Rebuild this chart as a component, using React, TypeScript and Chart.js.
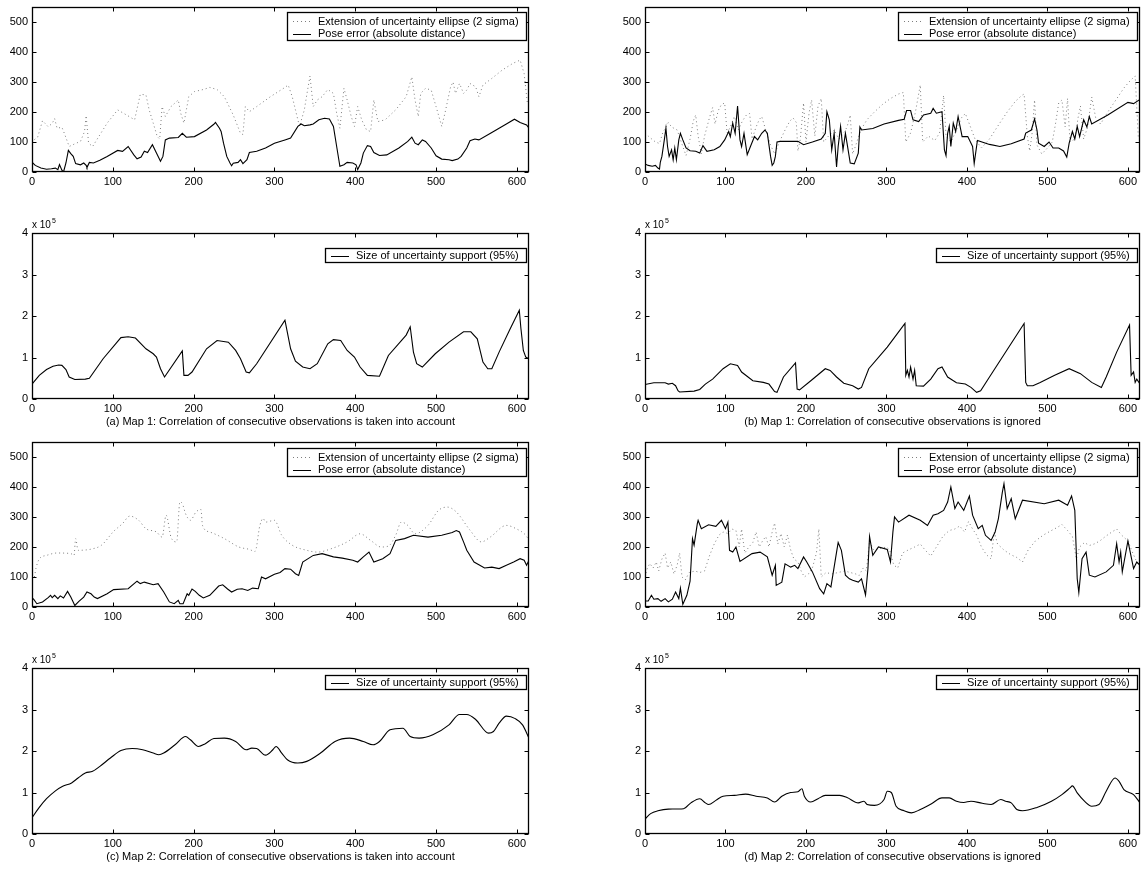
import React, { useEffect, useRef } from 'react';
import { Chart, registerables } from 'chart.js';

Chart.register(...registerables);

// ---------- axes / labels ----------
const X_TICKS = [0, 100, 200, 300, 400, 500, 600];
const POSE_Y_TICKS = [0, 100, 200, 300, 400, 500];
const SUPPORT_Y_TICKS = [0, 1, 2, 3, 4];
const X_MAX = 615;
const POSE_Y_MAX = 550;
const SUPPORT_Y_MAX = 4;

const LABEL_ELLIPSE = 'Extension of uncertainty ellipse (2 sigma)';
const LABEL_POSE = 'Pose error (absolute distance)';
const LABEL_SUPPORT = 'Size of uncertainty support (95%)';
const EXPONENT_BASE = 'x 10';
const EXPONENT_POWER = '5';

const CAPTION_A = '(a) Map 1: Correlation of consecutive observations is taken into account';
const CAPTION_B = '(b) Map 1: Correlation of consecutive observations is ignored';
const CAPTION_C = '(c) Map 2: Correlation of consecutive observations is taken into account';
const CAPTION_D = '(d) Map 2: Correlation of consecutive observations is ignored';

// ---------- data: [step, value] ----------
// (a) Map 1, correlation taken into account
const poseErrorA: [number, number][] = [[0,33],[4,22],[11,13],[18,9],[24,11],[29,13],[32,8],[34,25],[37,6],[39,0],[42,30],[45,72],[48,61],[51,52],[54,28],[60,24],[64,30],[67,22],[68,15],[71,32],[76,30],[84,39],[93,52],[106,72],[112,69],[119,85],[126,57],[130,44],[135,50],[139,69],[143,65],[149,91],[154,63],[159,36],[162,52],[165,107],[170,113],[181,115],[186,129],[191,116],[201,118],[216,140],[225,159],[227,165],[232,146],[234,135],[237,96],[241,52],[245,30],[247,21],[249,29],[255,32],[258,41],[261,28],[266,41],[269,65],[278,69],[289,80],[300,96],[313,107],[320,113],[329,152],[333,160],[337,154],[344,157],[348,160],[355,174],[362,179],[368,177],[373,152],[377,85],[381,19],[386,24],[390,32],[397,30],[401,24],[403,8],[407,30],[410,63],[415,88],[419,85],[423,65],[430,55],[439,57],[454,80],[465,102],[470,116],[474,96],[478,91],[483,107],[487,102],[494,80],[500,54],[507,43],[516,41],[520,38],[527,43],[531,52],[538,80],[542,104],[548,110],[553,107],[569,132],[587,160],[597,176],[604,165],[612,157],[615,146]];
const ellipseA: [number, number][] = [[3,108],[7,116],[13,171],[20,151],[25,162],[28,178],[31,146],[37,149],[40,129],[46,85],[53,94],[60,102],[65,135],[67,188],[70,96],[75,85],[84,124],[93,163],[106,207],[117,190],[127,174],[134,259],[141,257],[145,207],[150,163],[155,118],[158,110],[161,218],[165,185],[172,218],[181,240],[184,196],[188,163],[194,251],[201,268],[212,275],[220,282],[229,275],[238,251],[249,190],[258,129],[261,125],[264,218],[269,201],[278,218],[295,251],[313,282],[317,290],[322,251],[331,152],[337,207],[340,257],[344,320],[348,218],[353,240],[359,251],[366,275],[373,262],[377,196],[381,146],[386,279],[390,240],[395,185],[399,152],[403,218],[408,174],[414,140],[419,135],[423,240],[428,168],[437,174],[450,207],[463,251],[470,317],[474,240],[478,185],[481,262],[487,279],[494,273],[500,218],[507,152],[511,196],[518,284],[521,300],[524,262],[529,295],[534,262],[538,273],[542,295],[549,284],[553,251],[558,290],[569,312],[582,340],[595,362],[604,373],[609,328],[613,229]];
const supportA: [number, number][] = [[0,0.36],[9,0.57],[18,0.71],[26,0.79],[33,0.82],[37,0.81],[42,0.71],[46,0.53],[53,0.47],[66,0.48],[71,0.5],[88,0.97],[110,1.48],[119,1.5],[128,1.47],[141,1.21],[150,1.09],[154,1.01],[159,0.73],[164,0.53],[186,1.16],[188,0.57],[193,0.57],[198,0.65],[216,1.21],[229,1.41],[243,1.37],[252,1.17],[258,0.97],[265,0.65],[269,0.63],[278,0.85],[313,1.9],[315,1.7],[320,1.21],[326,0.91],[335,0.77],[344,0.73],[353,0.85],[366,1.33],[373,1.43],[382,1.41],[390,1.17],[399,1.01],[406,0.77],[415,0.57],[430,0.55],[441,1.05],[463,1.54],[468,1.74],[472,1.13],[476,0.85],[483,0.77],[499,1.09],[516,1.37],[534,1.62],[543,1.62],[551,1.45],[558,0.89],[564,0.73],[569,0.73],[578,1.13],[591,1.66],[603,2.14],[605,1.7],[608,1.17],[611,1.01],[615,0.97]];

// (b) Map 1, correlation ignored
const poseErrorB: [number, number][] = [[0,27],[4,22],[9,19],[13,22],[16,13],[18,10],[19,32],[21,52],[24,107],[26,146],[28,85],[30,52],[33,74],[35,41],[37,80],[39,41],[42,107],[44,129],[47,107],[51,80],[56,71],[63,69],[68,63],[72,88],[77,69],[86,74],[93,85],[99,107],[104,135],[106,118],[109,163],[112,129],[115,220],[118,107],[120,85],[123,129],[127,58],[131,85],[136,118],[140,107],[145,129],[149,140],[152,129],[156,52],[158,22],[160,30],[162,52],[164,100],[168,102],[190,102],[197,91],[208,100],[219,110],[224,129],[226,201],[229,174],[232,74],[235,129],[238,17],[240,85],[243,152],[246,74],[249,129],[251,96],[255,30],[260,27],[265,63],[267,150],[269,140],[283,145],[297,160],[315,172],[322,176],[325,205],[330,205],[333,174],[340,168],[346,190],[355,196],[358,212],[362,196],[369,201],[372,74],[374,55],[376,129],[378,152],[380,85],[383,163],[386,135],[389,185],[394,118],[401,118],[407,85],[409,28],[413,105],[428,92],[441,85],[455,94],[471,110],[473,130],[480,140],[484,177],[487,140],[489,96],[496,85],[502,100],[507,80],[514,80],[520,70],[524,50],[527,96],[531,135],[534,110],[537,152],[540,118],[545,174],[549,150],[552,185],[555,160],[575,190],[600,232],[607,228],[615,242]];
const ellipseB: [number, number][] = [[0,130],[6,115],[13,100],[18,95],[22,130],[26,150],[29,165],[33,150],[40,140],[45,100],[51,55],[56,110],[60,170],[63,190],[66,120],[70,60],[74,120],[80,180],[84,215],[87,160],[91,205],[95,225],[99,230],[102,130],[106,150],[111,185],[116,140],[121,170],[126,190],[130,195],[133,110],[138,150],[142,175],[145,185],[150,140],[156,90],[161,60],[167,100],[174,140],[180,170],[184,180],[188,165],[190,70],[193,110],[197,230],[200,100],[204,200],[207,240],[211,120],[215,220],[219,245],[222,100],[228,120],[235,140],[241,110],[247,130],[251,150],[255,190],[258,60],[262,90],[268,140],[276,175],[285,200],[295,225],[305,245],[315,260],[321,265],[324,100],[330,130],[336,200],[342,290],[345,100],[352,120],[360,105],[366,130],[371,255],[374,120],[380,100],[387,140],[393,180],[398,195],[403,160],[410,110],[418,80],[428,110],[440,160],[450,200],[460,235],[468,255],[471,260],[475,120],[478,70],[481,130],[484,240],[487,90],[493,60],[500,80],[506,100],[510,160],[514,230],[518,240],[522,150],[525,245],[528,100],[534,110],[538,180],[541,220],[545,110],[550,150],[555,250],[560,180],[566,160],[575,200],[585,240],[595,280],[603,305],[609,320],[613,110]];
const supportB: [number, number][] = [[0,0.35],[11,0.39],[25,0.39],[29,0.36],[34,0.38],[38,0.32],[41,0.2],[43,0.17],[61,0.19],[68,0.23],[75,0.36],[84,0.48],[97,0.73],[106,0.85],[115,0.81],[120,0.65],[134,0.44],[147,0.4],[154,0.36],[161,0.18],[164,0.16],[172,0.53],[187,0.87],[189,0.24],[192,0.22],[206,0.44],[224,0.73],[230,0.69],[238,0.53],[247,0.38],[258,0.32],[265,0.24],[269,0.28],[278,0.73],[301,1.25],[323,1.82],[324,0.57],[326,0.69],[328,0.53],[330,0.77],[333,0.48],[335,0.69],[337,0.32],[346,0.31],[355,0.48],[364,0.73],[369,0.77],[376,0.53],[387,0.39],[398,0.36],[405,0.28],[412,0.16],[417,0.2],[428,0.53],[471,1.82],[473,0.4],[475,0.32],[482,0.32],[491,0.4],[509,0.57],[527,0.73],[541,0.61],[555,0.4],[567,0.28],[573,0.53],[586,1.13],[602,1.78],[604,0.57],[607,0.65],[609,0.4],[611,0.48],[615,0.36]];

// (c) Map 2, correlation taken into account
const poseErrorC: [number, number][] = [[0,30],[2,26],[6,11],[13,17],[20,31],[23,39],[25,31],[28,39],[32,28],[35,37],[39,30],[44,52],[48,33],[53,5],[58,19],[64,33],[68,50],[73,44],[77,33],[81,28],[93,44],[101,58],[119,61],[130,86],[134,78],[139,83],[150,74],[156,78],[163,50],[170,17],[176,11],[181,22],[183,11],[187,11],[192,44],[194,39],[198,60],[202,52],[207,39],[212,30],[220,39],[231,70],[236,74],[242,60],[247,50],[254,59],[260,61],[267,55],[273,63],[280,61],[284,100],[289,94],[300,109],[307,115],[313,128],[320,126],[326,111],[330,105],[335,150],[348,172],[359,178],[373,167],[384,163],[397,156],[403,150],[410,167],[417,183],[423,150],[434,161],[443,178],[450,222],[461,228],[472,239],[490,233],[507,239],[520,248],[525,255],[529,250],[534,217],[538,189],[547,150],[553,141],[560,130],[569,133],[578,128],[587,139],[596,150],[604,161],[609,156],[612,139],[615,156]];
const ellipseC: [number, number][] = [[3,100],[5,130],[9,160],[18,172],[31,180],[48,178],[52,172],[54,228],[57,189],[75,194],[86,206],[101,252],[112,278],[121,303],[132,289],[141,261],[154,250],[161,233],[166,306],[172,233],[179,217],[183,350],[186,345],[190,311],[196,289],[203,317],[209,325],[211,272],[220,250],[238,228],[256,200],[269,192],[276,185],[282,272],[286,295],[289,283],[300,289],[309,239],[322,206],[340,189],[353,183],[370,194],[393,222],[401,239],[406,244],[419,222],[432,200],[441,203],[450,239],[457,283],[465,272],[474,244],[490,272],[503,322],[514,333],[525,317],[542,256],[556,217],[567,233],[587,272],[599,261],[611,239],[615,222]];
const supportC: [number, number][] = [[0,0.39],[9,0.64],[18,0.85],[29,1.04],[38,1.15],[49,1.23],[57,1.35],[66,1.47],[75,1.51],[84,1.63],[97,1.83],[110,2.01],[124,2.06],[137,2.03],[150,1.95],[157,1.91],[163,1.95],[177,2.15],[190,2.35],[196,2.27],[206,2.11],[214,2.17],[225,2.3],[238,2.31],[252,2.23],[265,2.03],[272,2.07],[278,2.06],[289,1.9],[298,2.03],[302,2.11],[309,1.95],[316,1.79],[329,1.71],[340,1.75],[357,1.95],[375,2.23],[393,2.31],[410,2.23],[422,2.15],[430,2.23],[443,2.51],[459,2.55],[468,2.35],[479,2.31],[496,2.39],[516,2.63],[529,2.88],[538,2.88],[549,2.76],[565,2.43],[571,2.47],[578,2.67],[587,2.84],[598,2.78],[607,2.63],[615,2.31]];

// (d) Map 2, correlation ignored
const poseErrorD: [number, number][] = [[0,20],[4,20],[8,39],[11,26],[16,28],[20,19],[25,28],[29,17],[34,26],[38,50],[42,28],[44,63],[47,9],[52,39],[56,86],[59,228],[61,206],[65,278],[66,289],[70,261],[79,274],[88,269],[95,289],[100,261],[103,283],[105,189],[109,183],[113,200],[118,152],[133,178],[143,183],[152,167],[158,106],[162,139],[163,72],[170,83],[174,144],[181,133],[186,139],[190,128],[197,167],[201,150],[208,117],[217,61],[222,44],[226,78],[231,67],[238,183],[240,215],[244,189],[249,106],[254,94],[258,89],[265,83],[269,94],[274,40],[277,128],[279,235],[283,172],[290,200],[301,192],[305,150],[308,250],[310,300],[315,283],[328,306],[342,289],[351,272],[358,306],[364,311],[371,322],[376,350],[380,400],[385,328],[389,350],[396,322],[403,370],[407,306],[414,261],[419,272],[423,239],[430,222],[435,250],[439,294],[444,383],[446,411],[450,328],[455,361],[460,294],[469,356],[496,344],[514,356],[525,339],[530,370],[534,322],[537,94],[539,48],[543,161],[548,183],[552,106],[559,100],[573,117],[582,139],[586,211],[589,150],[591,183],[593,117],[600,220],[607,128],[611,150],[615,139]];
const ellipseD: [number, number][] = [[0,100],[3,130],[6,145],[10,130],[14,150],[17,120],[21,160],[25,180],[28,130],[32,150],[36,110],[40,140],[43,180],[46,100],[50,90],[55,115],[62,120],[68,115],[74,120],[80,170],[86,210],[92,240],[97,250],[103,245],[108,260],[113,255],[117,200],[120,260],[124,180],[129,200],[134,215],[138,250],[142,200],[146,220],[150,235],[154,200],[158,250],[161,280],[165,210],[169,245],[173,200],[177,240],[181,190],[185,160],[190,150],[194,120],[198,100],[203,110],[208,130],[213,180],[216,260],[219,100],[225,115],[232,110],[240,115],[248,120],[255,115],[262,110],[266,105],[271,130],[275,120],[279,220],[284,190],[292,195],[300,200],[304,190],[309,140],[314,130],[320,180],[327,190],[335,200],[342,210],[348,190],[355,170],[362,200],[370,235],[378,255],[385,260],[391,270],[397,250],[402,285],[407,260],[412,240],[418,200],[424,175],[430,160],[434,250],[438,210],[446,190],[454,175],[462,165],[469,150],[476,190],[485,220],[495,240],[505,255],[512,265],[518,275],[525,255],[531,235],[536,160],[540,200],[546,215],[552,205],[558,210],[565,220],[572,235],[580,250],[586,260],[592,240],[600,220],[606,180],[611,150],[614,140]];
const supportD: [number, number][] = [[0,0.36],[7,0.49],[16,0.56],[29,0.6],[48,0.61],[57,0.75],[68,0.85],[75,0.75],[79,0.71],[88,0.81],[97,0.91],[111,0.93],[125,0.96],[138,0.91],[152,0.87],[161,0.77],[170,0.91],[181,1.0],[190,1.02],[195,1.09],[198,0.91],[206,0.77],[215,0.85],[224,0.93],[242,0.93],[251,0.88],[265,0.75],[272,0.79],[276,0.71],[285,0.69],[297,0.83],[301,1.03],[306,1.0],[312,0.67],[322,0.56],[331,0.51],[342,0.59],[356,0.73],[369,0.87],[378,0.87],[387,0.79],[396,0.76],[405,0.79],[419,0.74],[430,0.71],[442,0.83],[448,0.79],[455,0.75],[462,0.59],[469,0.56],[487,0.64],[505,0.79],[518,0.95],[528,1.11],[531,1.16],[537,0.99],[546,0.79],[555,0.67],[564,0.71],[573,1.03],[584,1.35],[589,1.27],[595,1.07],[607,0.95],[615,0.75]];

// ---------- styling ----------
const FONT = '"Liberation Sans", Arial, Helvetica, sans-serif';
const DOT_COLOR = '#7d7d7d';
const DOT_DASH = [1, 3];
const TICK_LEN = 4;

type Entry = { label: string; dotted: boolean };

const framePlugin = {
  id: 'matlabFrame',
  afterDatasetsDraw(chart: any, _args: any, opts: any) {
    const { ctx, chartArea: a } = chart;
    const xs = chart.scales.x;
    const ys = chart.scales.y;
    const L = Math.round(a.left) + 0.5;
    const R = Math.round(a.right) - 0.5;
    const T = Math.round(a.top) + 0.5;
    const B = Math.round(a.bottom) - 0.5;
    ctx.save();
    ctx.strokeStyle = '#000';
    ctx.lineWidth = 1;
    ctx.setLineDash([]);
    ctx.beginPath();
    for (const t of xs.ticks) {
      const p = Math.round(xs.getPixelForValue(t.value)) + 0.5;
      ctx.moveTo(p, B); ctx.lineTo(p, B - TICK_LEN);
      ctx.moveTo(p, T); ctx.lineTo(p, T + TICK_LEN);
    }
    for (const t of ys.ticks) {
      const p = Math.round(ys.getPixelForValue(t.value)) + 0.5;
      ctx.moveTo(L, p); ctx.lineTo(L + TICK_LEN, p);
      ctx.moveTo(R, p); ctx.lineTo(R - TICK_LEN, p);
    }
    ctx.stroke();
    ctx.lineWidth = 1.3;
    ctx.strokeRect(L, T, R - L, B - T);

    // legend
    const entries: Entry[] = opts.entries || [];
    if (entries.length) {
      ctx.font = `11px ${FONT}`;
      const tw = Math.max(...entries.map((e) => ctx.measureText(e.label).width));
      const bw = Math.round(31 + tw + 8);
      const bh = entries.length > 1 ? 29 : 15;
      const bx = Math.round(a.right - 2 - bw);
      const by = Math.round(a.top + opts.legendTop);
      ctx.fillStyle = '#fff';
      ctx.fillRect(bx, by, bw, bh);
      ctx.strokeStyle = '#000';
      ctx.lineWidth = 1.3;
      ctx.strokeRect(bx + 0.5, by + 0.5, bw - 1, bh - 1);
      ctx.lineWidth = 1;
      entries.forEach((e, i) => {
        const cy = by + (entries.length > 1 ? 9 + i * 12.5 : 7.5);
        ctx.beginPath();
        ctx.strokeStyle = e.dotted ? DOT_COLOR : '#000';
        ctx.setLineDash(e.dotted ? DOT_DASH : []);
        ctx.moveTo(bx + 6, Math.round(cy) + 0.5);
        ctx.lineTo(bx + 24, Math.round(cy) + 0.5);
        ctx.stroke();
        ctx.setLineDash([]);
        ctx.fillStyle = '#000';
        ctx.textAlign = 'left';
        ctx.textBaseline = 'middle';
        ctx.fillText(e.label, bx + 31, cy + 0.5);
      });
    }

    // exponent label
    if (opts.exponent) {
      ctx.fillStyle = '#000';
      ctx.textAlign = 'left';
      ctx.textBaseline = 'alphabetic';
      ctx.font = `10px ${FONT}`;
      ctx.fillText(EXPONENT_BASE, a.left, a.top - 5);
      const w = ctx.measureText(EXPONENT_BASE).width;
      ctx.font = `7px ${FONT}`;
      ctx.fillText(EXPONENT_POWER, a.left + w + 1, a.top - 10);
    }
    ctx.restore();
  },
};

// ---------- layout ----------
const COLS = [
  { canvasLeft: 0, plotLeft: 32, plotRight: 529, canvasRight: 533 },
  { canvasLeft: 613, plotLeft: 645, plotRight: 1140, canvasRight: 1143 },
];
const ROWS = [
  { plotTop: 7, plotBottom: 172, padTop: 7, legendTop: 5 },
  { plotTop: 233, plotBottom: 399, padTop: 20, legendTop: 15 },
  { plotTop: 442, plotBottom: 607, padTop: 12, legendTop: 6 },
  { plotTop: 668, plotBottom: 834, padTop: 20, legendTop: 6.5 },
];
const X_AXIS_H = 22;

type PanelSpec = {
  col: number;
  row: number;
  kind: 'pose' | 'support';
  solid: [number, number][];
  dotted?: [number, number][];
  smoothSolid?: boolean;
  smoothDotted?: boolean;
};

const PANELS: PanelSpec[] = [
  { col: 0, row: 0, kind: 'pose', solid: poseErrorA, dotted: ellipseA },
  { col: 0, row: 1, kind: 'support', solid: supportA },
  { col: 1, row: 0, kind: 'pose', solid: poseErrorB, dotted: ellipseB },
  { col: 1, row: 1, kind: 'support', solid: supportB },
  { col: 0, row: 2, kind: 'pose', solid: poseErrorC, dotted: ellipseC, smoothDotted: true },
  { col: 0, row: 3, kind: 'support', solid: supportC, smoothSolid: true },
  { col: 1, row: 2, kind: 'pose', solid: poseErrorD, dotted: ellipseD },
  { col: 1, row: 3, kind: 'support', solid: supportD, smoothSolid: true },
];

const CAPTIONS = [
  { col: 0, y: 421, text: CAPTION_A },
  { col: 1, y: 421, text: CAPTION_B },
  { col: 0, y: 856, text: CAPTION_C },
  { col: 1, y: 856, text: CAPTION_D },
];

const toXY = (arr: [number, number][]) => arr.map(([x, y]) => ({ x, y }));

function Panel({ spec }: { spec: PanelSpec }) {
  const ref = useRef<HTMLCanvasElement>(null);
  const c = COLS[spec.col];
  const r = ROWS[spec.row];
  const width = c.canvasRight - c.canvasLeft;
  const height = r.padTop + (r.plotBottom - r.plotTop) + X_AXIS_H;
  const top = r.plotTop - r.padTop;
  const yAxisW = c.plotLeft - c.canvasLeft;
  const padRight = c.canvasRight - c.plotRight;

  useEffect(() => {
    const isPose = spec.kind === 'pose';
    const datasets: any[] = [
      {
        data: toXY(spec.solid),
        borderColor: '#000',
        borderWidth: 1.1,
        pointRadius: 0,
        fill: false,
        cubicInterpolationMode: spec.smoothSolid ? 'monotone' : 'default',
        tension: 0,
      },
    ];
    if (spec.dotted) {
      datasets.push({
        data: toXY(spec.dotted),
        borderColor: DOT_COLOR,
        borderWidth: 1,
        borderDash: DOT_DASH,
        pointRadius: 0,
        fill: false,
        cubicInterpolationMode: spec.smoothDotted ? 'monotone' : 'default',
        tension: 0,
      });
    }
    const entries: Entry[] = isPose
      ? [
          { label: LABEL_ELLIPSE, dotted: true },
          { label: LABEL_POSE, dotted: false },
        ]
      : [{ label: LABEL_SUPPORT, dotted: false }];
    const yTicks = isPose ? POSE_Y_TICKS : SUPPORT_Y_TICKS;
    const tickFont = { family: FONT, size: 11 };
    const chart = new Chart(ref.current as HTMLCanvasElement, {
      type: 'line',
      data: { datasets },
      plugins: [framePlugin as any],
      options: {
        animation: false,
        responsive: false,
        devicePixelRatio: 1,
        events: [],
        layout: { padding: { left: 0, top: r.padTop, right: padRight, bottom: 0 } },
        plugins: {
          legend: { display: false },
          tooltip: { enabled: false },
          matlabFrame: { entries, legendTop: r.legendTop, exponent: !isPose },
        } as any,
        scales: {
          x: {
            type: 'linear',
            min: 0,
            max: X_MAX,
            grid: { display: false, drawTicks: false },
            border: { display: false },
            ticks: {
              font: tickFont,
              color: '#000',
              padding: 3,
              maxRotation: 0,
              autoSkip: false,
              callback: (v: any) => String(v),
            },
            afterBuildTicks: (s: any) => {
              s.ticks = X_TICKS.map((v) => ({ value: v }));
            },
            afterFit: (s: any) => {
              s.height = X_AXIS_H;
              s.paddingLeft = 0;
              s.paddingRight = 0;
              s.paddingTop = 0;
              s.paddingBottom = 0;
            },
          },
          y: {
            type: 'linear',
            min: 0,
            max: isPose ? POSE_Y_MAX : SUPPORT_Y_MAX,
            grid: { display: false, drawTicks: false },
            border: { display: false },
            ticks: {
              font: tickFont,
              color: '#000',
              padding: 4,
              autoSkip: false,
              callback: (v: any) => String(v),
            },
            afterBuildTicks: (s: any) => {
              s.ticks = yTicks.map((v) => ({ value: v }));
            },
            afterFit: (s: any) => {
              s.width = yAxisW;
              s.paddingLeft = 0;
              s.paddingRight = 0;
              s.paddingTop = 0;
              s.paddingBottom = 0;
            },
          },
        },
      } as any,
    });
    return () => chart.destroy();
  }, []);

  return (
    <canvas
      ref={ref}
      width={width}
      height={height}
      style={{ position: 'absolute', left: c.canvasLeft, top, width, height, display: 'block' }}
    />
  );
}

export default function App() {
  return (
    <div
      style={{
        position: 'absolute',
        left: 0,
        top: 0,
        width: 1143,
        height: 869,
        overflow: 'hidden',
        background: '#fff',
      }}
    >
      {PANELS.map((p, i) => (
        <Panel key={i} spec={p} />
      ))}
      {CAPTIONS.map((cap, i) => {
        const c = COLS[cap.col];
        return (
          <div
            key={'c' + i}
            style={{
              position: 'absolute',
              left: c.plotLeft,
              width: c.plotRight - c.plotLeft,
              top: cap.y - 7,
              height: 14,
              lineHeight: '14px',
              textAlign: 'center',
              fontFamily: FONT,
              fontSize: 11,
              color: '#000',
              whiteSpace: 'nowrap',
            }}
          >
            {cap.text}
          </div>
        );
      })}
    </div>
  );
}
